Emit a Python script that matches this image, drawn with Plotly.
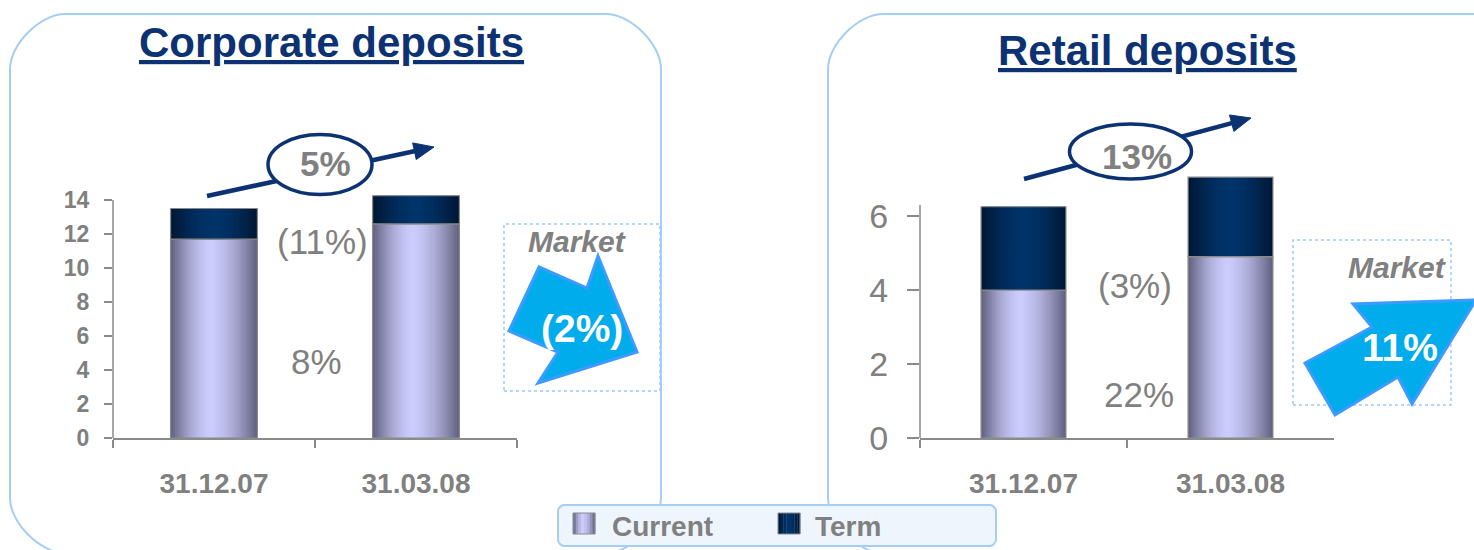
import plotly.graph_objects as go

W, H = 1474, 550

# ---------------- data ----------------
categories = ["31.12.07", "31.03.08"]
corp_current = [11.7, 12.6]
corp_term = [1.8, 1.65]
retail_current = [4.0, 4.9]
retail_term = [2.25, 2.15]
series_names = ["Current", "Term"]
corp_title = "Corporate deposits"
retail_title = "Retail deposits"
corp_growth = "5%"
retail_growth = "13%"
corp_changes = ["8%", "(11%)"]      # current, term
retail_changes = ["22%", "(3%)"]    # current, term
corp_market = "(2%)"
retail_market = "11%"
market_label = "Market"

# ---------------- style ----------------
FONT = "Arial, 'Liberation Sans', sans-serif"
GRAY = "#808080"
AXIS = "#8a8a8a"
NAVY = "#0c3273"
PANEL = "#a6cef4"
CURRENT_EDGE = (94, 94, 124)
CURRENT_PEAK = (203, 203, 252)
TERM_EDGE = (0, 22, 50)
TERM_PEAK = (0, 52, 106)


def px(x):
    return x / W


def py(y):
    return 1 - y / H


def mix(c1, c2, f):
    return "rgb(%d,%d,%d)" % tuple(round(a + (b - a) * f) for a, b in zip(c1, c2))


def profile(t, peak):
    d = (t - peak) / peak if t < peak else (t - peak) / (1 - peak)
    return max(0.0, 1 - abs(d) ** 1.6)


fig = go.Figure()


def add_bars(xa, ya, cur, term, bw, N=40):
    specs = [(cur, [0] * len(cur), CURRENT_EDGE, CURRENT_PEAK, 0.46),
             (term, cur, TERM_EDGE, TERM_PEAK, 0.5)]
    step = bw / N
    for vals, base, edge, peak, pk in specs:
        for i in range(N):
            t = (i + 0.5) / N
            off = -bw / 2 + i * step
            wid = min(2.5 * step, bw / 2 - off)
            fig.add_trace(go.Bar(
                x=categories, y=vals, base=base,
                width=[wid] * len(vals), offset=off,
                marker=dict(color=mix(edge, peak, profile(t, pk)), line=dict(width=0)),
                xaxis=xa, yaxis=ya, showlegend=False, hoverinfo="skip"))
        fig.add_trace(go.Bar(
            x=categories, y=vals, base=base,
            width=[bw] * len(vals), offset=-bw / 2,
            marker=dict(color="rgba(0,0,0,0)", line=dict(color=AXIS, width=1.2)),
            xaxis=xa, yaxis=ya, showlegend=False, hoverinfo="skip"))


add_bars("x", "y", corp_current, corp_term, 0.43)
add_bars("x2", "y2", retail_current, retail_term, 0.41)

shapes = []
annotations = []


def rrect_path(x0, y0, x1, y1, r):
    k = 0.45 * r
    pts = [
        ("M", [(x0 + r, y0)]),
        ("L", [(x1 - r, y0)]),
        ("C", [(x1 - r + k, y0), (x1, y0 + r - k), (x1, y0 + r)]),
        ("L", [(x1, y1 - r)]),
        ("C", [(x1, y1 - r + k), (x1 - r + k, y1), (x1 - r, y1)]),
        ("L", [(x0 + r, y1)]),
        ("C", [(x0 + r - k, y1), (x0, y1 - r + k), (x0, y1 - r)]),
        ("L", [(x0, y0 + r)]),
        ("C", [(x0, y0 + r - k), (x0 + r - k, y0), (x0 + r, y0)]),
    ]
    s = ""
    for cmd, ps in pts:
        s += cmd + " " + " ".join("%.5f,%.5f" % (px(a), py(b)) for a, b in ps) + " "
    return s + "Z"


def poly_path(points):
    return "M " + " L ".join("%.5f,%.5f" % (px(a), py(b)) for a, b in points) + " Z"


# panels
shapes.append(dict(type="path", xref="paper", yref="paper", layer="below",
                   path=rrect_path(10, 14, 661, 553, 55),
                   line=dict(color=PANEL, width=2), fillcolor="rgba(0,0,0,0)"))
shapes.append(dict(type="path", xref="paper", yref="paper", layer="below",
                   path=rrect_path(828, 14, 1530, 553, 55),
                   line=dict(color=PANEL, width=2), fillcolor="rgba(0,0,0,0)"))

# market dotted boxes
for (x0, y0, x1, y1) in [(504, 224, 660, 391), (1293, 240, 1451, 405)]:
    shapes.append(dict(type="rect", xref="paper", yref="paper",
                       x0=px(x0), x1=px(x1), y0=py(y1), y1=py(y0),
                       line=dict(color="#99c9fb", width=1.5, dash="dot")))

# block arrows
left_arrow = [(539, 267), (587, 288), (598, 256), (637, 352), (538, 383), (558, 352), (509, 331)]
right_arrow = [(1305, 363), (1372, 327), (1353, 304), (1476, 300), (1412, 404), (1398, 377), (1335, 415)]
for pts in (left_arrow, right_arrow):
    shapes.append(dict(type="path", xref="paper", yref="paper", path=poly_path(pts),
                       fillcolor="#00acec", line=dict(color="#3d9bff", width=3)))


def growth_arrow(tail, tip, center, rx, ry, text, tcenter):
    dx, dy = tip[0] - tail[0], tip[1] - tail[1]
    L = (dx ** 2 + dy ** 2) ** 0.5
    ux, uy = dx / L, dy / L
    nx, ny = -uy, ux
    hl, hw = 20, 8.5
    bx, by = tip[0] - hl * ux, tip[1] - hl * uy
    shapes.append(dict(type="line", xref="paper", yref="paper",
                       x0=px(tail[0]), y0=py(tail[1]), x1=px(bx + 2 * ux), y1=py(by + 2 * uy),
                       line=dict(color=NAVY, width=4.5)))
    shapes.append(dict(type="circle", xref="paper", yref="paper",
                       x0=px(center[0] - rx), x1=px(center[0] + rx),
                       y0=py(center[1] + ry), y1=py(center[1] - ry),
                       fillcolor="white", line=dict(color=NAVY, width=3.5)))
    shapes.append(dict(type="path", xref="paper", yref="paper",
                       path=poly_path([tip, (bx + hw * nx, by + hw * ny), (bx - hw * nx, by - hw * ny)]),
                       fillcolor=NAVY, line=dict(color=NAVY, width=1)))
    annotations.append(dict(text="<b>%s</b>" % text, x=px(tcenter[0]), y=py(tcenter[1]),
                            xref="paper", yref="paper", showarrow=False,
                            xanchor="center", yanchor="middle",
                            font=dict(family=FONT, size=35, color=GRAY)))


growth_arrow((207, 196), (434, 147), (320, 164.5), 52, 30, corp_growth, (325, 164))
growth_arrow((1024, 179), (1251, 118), (1130.5, 151.5), 61, 27.5, retail_growth, (1137, 156))

# legend box
shapes.append(dict(type="path", xref="paper", yref="paper",
                   path=rrect_path(558, 505, 996, 546, 6),
                   fillcolor="#eef5fd", line=dict(color=PANEL, width=2)))
n_leg = 8
for (x0, edge, peak, pk) in [(573, CURRENT_EDGE, CURRENT_PEAK, 0.46), (778, TERM_EDGE, TERM_PEAK, 0.5)]:
    w = 22 / n_leg
    for i in range(n_leg):
        t = (i + 0.5) / n_leg
        shapes.append(dict(type="rect", xref="paper", yref="paper",
                           x0=px(x0 + i * w), x1=px(x0 + (i + 1) * w + 0.3),
                           y0=py(534), y1=py(513),
                           fillcolor=mix(edge, peak, profile(t, pk)), line=dict(width=0)))
    shapes.append(dict(type="rect", xref="paper", yref="paper",
                       x0=px(x0), x1=px(x0 + 22), y0=py(534), y1=py(513),
                       line=dict(color=AXIS, width=1)))
for name, x0 in zip(series_names, [610, 813]):
    annotations.append(dict(text="<b>%s</b>" % name, x=px(x0), y=py(526),
                            xref="paper", yref="paper", showarrow=False,
                            xanchor="left", yanchor="middle",
                            font=dict(family=FONT, size=28, color=GRAY)))

# y axis lines (drawn only up to the top tick)
shapes.append(dict(type="line", xref="x domain", yref="y", x0=0, x1=0, y0=0, y1=14,
                   line=dict(color=AXIS, width=1.5)))
shapes.append(dict(type="line", xref="x2 domain", yref="y2", x0=0, x1=0, y0=0, y1=6.3,
                   line=dict(color=AXIS, width=1.5)))

# titles
for text, x, y in [(corp_title, 331, 42), (retail_title, 1147, 50)]:
    annotations.append(dict(text="<b>%s</b>" % text, x=px(x), y=py(y),
                            xref="paper", yref="paper", showarrow=False,
                            xanchor="center", yanchor="middle",
                            font=dict(family=FONT, size=42, color=NAVY, lineposition="under")))

# change labels
for text, x, y in [(corp_changes[1], 322, 241), (corp_changes[0], 316, 361),
                   (retail_changes[1], 1135, 285), (retail_changes[0], 1139, 394)]:
    annotations.append(dict(text=text, x=px(x), y=py(y), xref="paper", yref="paper",
                            showarrow=False, xanchor="center", yanchor="middle",
                            font=dict(family=FONT, size=35, color=GRAY)))

# market labels
for x, y in [(577, 241), (1397, 267)]:
    annotations.append(dict(text="<b><i>%s</i></b>" % market_label, x=px(x), y=py(y),
                            xref="paper", yref="paper", showarrow=False,
                            xanchor="center", yanchor="middle",
                            font=dict(family=FONT, size=30, color=GRAY)))
for text, x, y in [(corp_market, 582, 328), (retail_market, 1400, 347)]:
    annotations.append(dict(text="<b>%s</b>" % text, x=px(x), y=py(y),
                            xref="paper", yref="paper", showarrow=False,
                            xanchor="center", yanchor="middle",
                            font=dict(family=FONT, size=39, color="white")))

xcommon = dict(type="category", showline=True, linecolor=AXIS, linewidth=1.5,
               ticks="outside", tickson="boundaries", ticklen=8, tickcolor=AXIS, tickwidth=1.5,
               showgrid=False, zeroline=False, ticklabelstandoff=20, automargin=False,
               tickfont=dict(family=FONT, size=28, color=GRAY, weight="bold"))
ycommon = dict(showline=False, showgrid=False, zeroline=False, ticks="outside",
               tickcolor=AXIS, tickwidth=1.5, dtick=2, tick0=0, automargin=False)

fig.update_layout(
    width=W, height=H,
    margin=dict(l=0, r=0, t=0, b=0, pad=0, autoexpand=False),
    paper_bgcolor="white", plot_bgcolor="rgba(0,0,0,0)",
    barmode="overlay", showlegend=False,
    xaxis=dict(domain=[px(113), px(517)], anchor="y", **xcommon),
    yaxis=dict(domain=[py(438), py(438 - 14.3 * 17)], anchor="x", range=[0, 14.3],
               ticklen=8, ticklabelstandoff=10,
               tickfont=dict(family=FONT, size=23, color=GRAY, weight="bold"), **ycommon),
    xaxis2=dict(domain=[px(920), px(1334)], anchor="y2", **xcommon),
    yaxis2=dict(domain=[py(438), py(438 - 7.15 * 37)], anchor="x2", range=[0, 7.15],
                ticklen=12, ticklabelstandoff=12,
                tickfont=dict(family=FONT, size=34, color=GRAY), **ycommon),
    shapes=shapes,
    annotations=annotations,
)

fig.write_html("out.html", config={"displayModeBar": False, "staticPlot": True},
               post_script="document.body.style.margin='0';document.body.style.overflow='hidden';")
